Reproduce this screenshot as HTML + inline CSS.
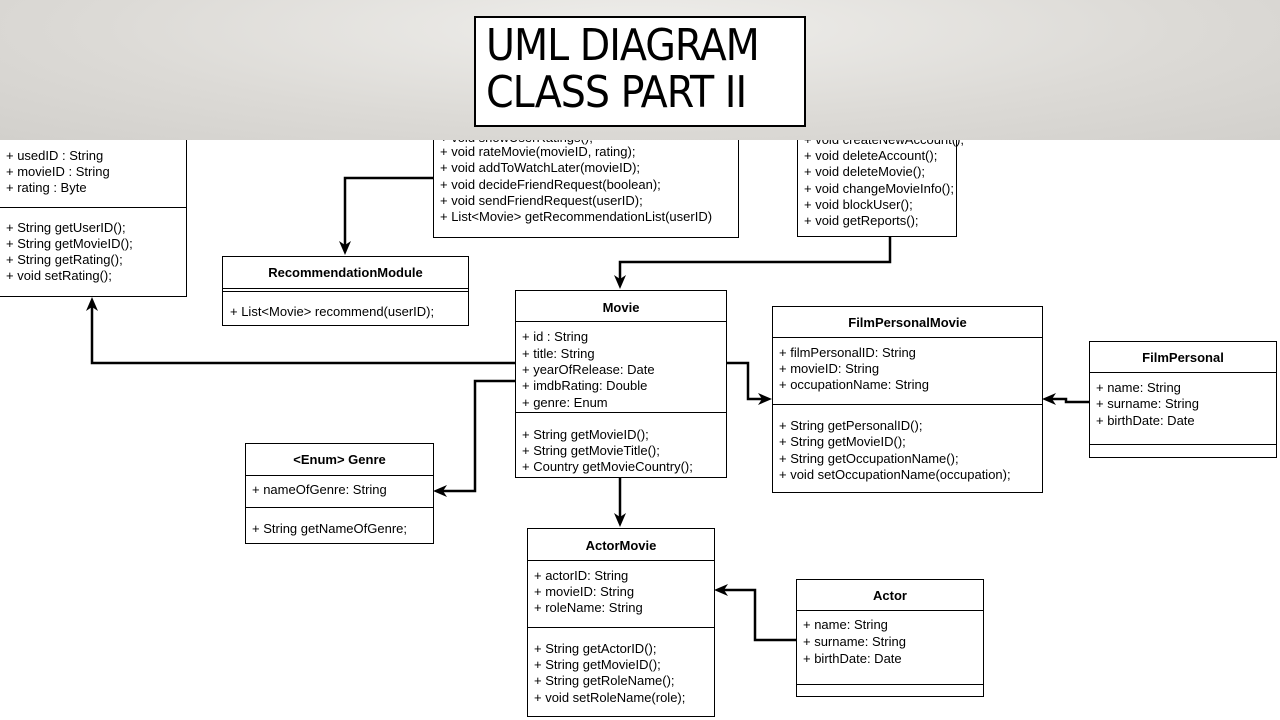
<!DOCTYPE html>
<html><head><meta charset="utf-8"><style>
body{margin:0;width:1280px;height:720px;overflow:hidden;background:#fff;position:relative;font-family:"Liberation Sans",Arial,sans-serif;font-size:13px;color:#000}
.b{position:absolute;border:1px solid #000;background:#fff;box-sizing:border-box}
.t{position:absolute;white-space:nowrap;line-height:16px}
.h{position:absolute;font-weight:bold;text-align:center;left:0;right:0;line-height:16px}
.d{position:absolute;left:0;right:0;border-top:1px solid #000}
#ban{position:absolute;left:0;top:0;width:1280px;height:140px;background:radial-gradient(ellipse at 50% 20%,#efeeeb 0%,#dcdad6 60%,#d2d0cc 100%)}
#title{position:absolute;left:474px;top:16px;width:332px;height:111px;border:2px solid #000;background:#fff;box-sizing:border-box;font-family:"DejaVu Sans Condensed","Liberation Sans Narrow","Liberation Sans",sans-serif;font-size:44px;line-height:47px;padding:4px 0 0 10px;letter-spacing:-1px}
svg{position:absolute;left:0;top:0}
</style></head><body>

<div class="b" style="left:-2px;top:120px;width:189px;height:177px">
<div class="t" style="left:7px;top:27px">+ usedID : String</div>
<div class="t" style="left:7px;top:43px">+ movieID : String</div>
<div class="t" style="left:7px;top:59px">+ rating : Byte</div>
<div class="d" style="top:86px"></div>
<div class="t" style="left:7px;top:99px">+ String getUserID();</div>
<div class="t" style="left:7px;top:115px">+ String getMovieID();</div>
<div class="t" style="left:7px;top:131px">+ String getRating();</div>
<div class="t" style="left:7px;top:147px">+ void setRating();</div>
</div>

<div class="b" style="left:433px;top:110px;width:306px;height:128px">
<div class="t" style="left:6px;top:19px">+ void showUserRatings();</div>
<div class="t" style="left:6px;top:33px">+ void rateMovie(movieID, rating);</div>
<div class="t" style="left:6px;top:49px">+ void addToWatchLater(movieID);</div>
<div class="t" style="left:6px;top:66px">+ void decideFriendRequest(boolean);</div>
<div class="t" style="left:6px;top:82px">+ void sendFriendRequest(userID);</div>
<div class="t" style="left:6px;top:98px">+ List&lt;Movie&gt; getRecommendationList(userID)</div>
</div>

<div class="b" style="left:797px;top:110px;width:160px;height:127px">
<div class="t" style="left:6px;top:21px">+ void createNewAccount();</div>
<div class="t" style="left:6px;top:37px">+ void deleteAccount();</div>
<div class="t" style="left:6px;top:53px">+ void deleteMovie();</div>
<div class="t" style="left:6px;top:70px">+ void changeMovieInfo();</div>
<div class="t" style="left:6px;top:86px">+ void blockUser();</div>
<div class="t" style="left:6px;top:102px">+ void getReports();</div>
</div>

<div id="ban"></div>
<div id="title">UML DIAGRAM<br>CLASS PART II</div>

<div class="b" style="left:222px;top:256px;width:247px;height:70px">
<div class="h" style="top:8px">RecommendationModule</div>
<div class="d" style="top:31px"></div><div class="d" style="top:34px"></div>
<div class="t" style="left:7px;top:47px">+ List&lt;Movie&gt; recommend(userID);</div>
</div>

<div class="b" style="left:515px;top:290px;width:212px;height:188px">
<div class="h" style="top:9px">Movie</div>
<div class="d" style="top:30px"></div>
<div class="t" style="left:6px;top:38px">+ id : String</div>
<div class="t" style="left:6px;top:55px">+ title: String</div>
<div class="t" style="left:6px;top:71px">+ yearOfRelease: Date</div>
<div class="t" style="left:6px;top:87px">+ imdbRating: Double</div>
<div class="t" style="left:6px;top:104px">+ genre: Enum</div>
<div class="d" style="top:121px"></div>
<div class="t" style="left:6px;top:136px">+ String getMovieID();</div>
<div class="t" style="left:6px;top:152px">+ String getMovieTitle();</div>
<div class="t" style="left:6px;top:168px">+ Country getMovieCountry();</div>
</div>

<div class="b" style="left:772px;top:306px;width:271px;height:187px">
<div class="h" style="top:8px">FilmPersonalMovie</div>
<div class="d" style="top:30px"></div>
<div class="t" style="left:6px;top:38px">+ filmPersonalID: String</div>
<div class="t" style="left:6px;top:54px">+ movieID: String</div>
<div class="t" style="left:6px;top:70px">+ occupationName: String</div>
<div class="d" style="top:97px"></div>
<div class="t" style="left:6px;top:111px">+ String getPersonalID();</div>
<div class="t" style="left:6px;top:127px">+ String getMovieID();</div>
<div class="t" style="left:6px;top:144px">+ String getOccupationName();</div>
<div class="t" style="left:6px;top:160px">+ void setOccupationName(occupation);</div>
</div>

<div class="b" style="left:1089px;top:341px;width:188px;height:117px">
<div class="h" style="top:8px">FilmPersonal</div>
<div class="d" style="top:30px"></div>
<div class="t" style="left:6px;top:38px">+ name: String</div>
<div class="t" style="left:6px;top:54px">+ surname: String</div>
<div class="t" style="left:6px;top:71px">+ birthDate: Date</div>
<div class="d" style="top:102px"></div>
</div>

<div class="b" style="left:245px;top:443px;width:189px;height:101px">
<div class="h" style="top:8px">&lt;Enum&gt; Genre</div>
<div class="d" style="top:31px"></div>
<div class="t" style="left:6px;top:38px">+ nameOfGenre: String</div>
<div class="d" style="top:63px"></div>
<div class="t" style="left:6px;top:77px">+ String getNameOfGenre;</div>
</div>

<div class="b" style="left:527px;top:528px;width:188px;height:189px">
<div class="h" style="top:9px">ActorMovie</div>
<div class="d" style="top:31px"></div>
<div class="t" style="left:6px;top:39px">+ actorID: String</div>
<div class="t" style="left:6px;top:55px">+ movieID: String</div>
<div class="t" style="left:6px;top:71px">+ roleName: String</div>
<div class="d" style="top:98px"></div>
<div class="t" style="left:6px;top:112px">+ String getActorID();</div>
<div class="t" style="left:6px;top:128px">+ String getMovieID();</div>
<div class="t" style="left:6px;top:144px">+ String getRoleName();</div>
<div class="t" style="left:6px;top:161px">+ void setRoleName(role);</div>
</div>

<div class="b" style="left:796px;top:579px;width:188px;height:118px">
<div class="h" style="top:8px">Actor</div>
<div class="d" style="top:30px"></div>
<div class="t" style="left:6px;top:37px">+ name: String</div>
<div class="t" style="left:6px;top:54px">+ surname: String</div>
<div class="t" style="left:6px;top:71px">+ birthDate: Date</div>
<div class="d" style="top:104px"></div>
</div>

<svg width="1280" height="720" viewBox="0 0 1280 720">
<g fill="none" stroke="#000" stroke-width="2.5">
<polyline points="515,363 92,363 92,305"/>
<polyline points="433,178 345,178 345,247"/>
<polyline points="890,237 890,262 620,262 620,281"/>
<polyline points="727,363 748,363 748,399 764,399"/>
<polyline points="515,381 475,381 475,491 441,491"/>
<polyline points="620,478 620,519"/>
<polyline points="1089,402 1066,402 1066,399 1050,399"/>
<polyline points="796,640 755,640 755,590 722,590"/>
</g>
<g fill="#000">
<path d="M92,297 L86,311 L92,307 L98,311Z"/>
<path d="M345,255 L339,241 L345,245 L351,241Z"/>
<path d="M620,289 L614,275 L620,279 L626,275Z"/>
<path d="M772,399 L758,393 L762,399 L758,405Z"/>
<path d="M433,491 L447,485 L443,491 L447,497Z"/>
<path d="M620,527 L614,513 L620,517 L626,513Z"/>
<path d="M1042,399 L1056,393 L1052,399 L1056,405Z"/>
<path d="M714,590 L728,584 L724,590 L728,596Z"/>
</g>
</svg>
</body></html>
